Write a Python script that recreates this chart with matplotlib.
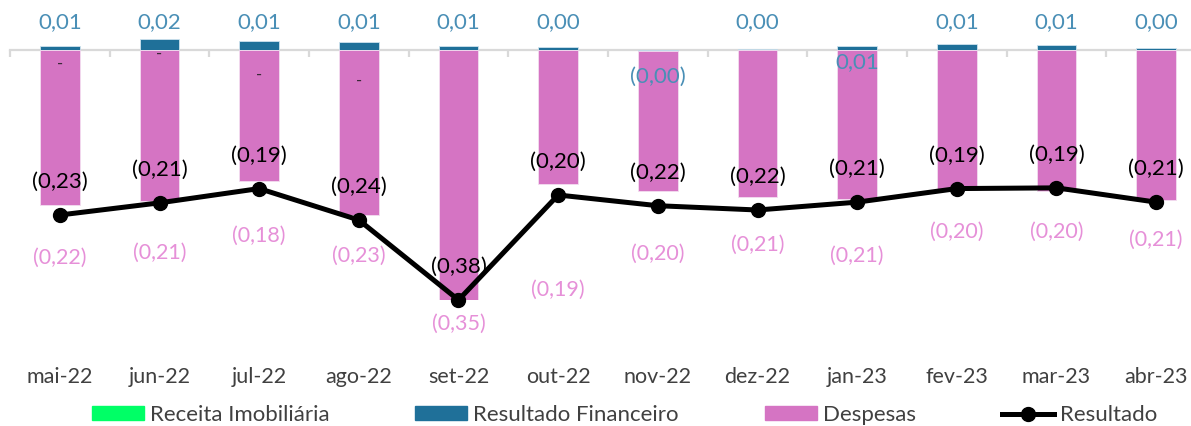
import numpy as np
import matplotlib
matplotlib.use("Agg")
import matplotlib.pyplot as plt
from matplotlib.transforms import blended_transform_factory
from matplotlib.lines import Line2D
from matplotlib.patches import Patch

# ---------------- data ----------------
meses = ["mai-22", "jun-22", "jul-22", "ago-22", "set-22", "out-22",
         "nov-22", "dez-22", "jan-23", "fev-23", "mar-23", "abr-23"]
receita_imobiliaria = [0, 0, 0, 0, 0, 0, 0, 0, 0, 0, 0, 0]
resultado_financeiro = [0.0056, 0.016, 0.0126, 0.011, 0.006, 0.004,
                        -0.001, 0.001, 0.006, 0.008, 0.007, 0.003]
despesas = [-0.2175, -0.211, -0.183, -0.231, -0.35, -0.187,
            -0.197, -0.206, -0.209, -0.196, -0.197, -0.21]
resultado = [-0.231, -0.214, -0.194, -0.238, -0.38, -0.203,
             -0.218, -0.224, -0.213, -0.194, -0.193, -0.213]
receita_label_meses = ["mai-22", "jun-22", "jul-22", "ago-22"]

# ---------------- layout / style ----------------
W, H, DPI = 1191, 426, 100
PX = 72.0 / DPI  # points per pixel

C_GREEN = "#00FF66"
C_BLUE = "#1F7099"
C_PINK = "#D574C3"
C_BLUE_LBL = "#4A8FB6"
C_PINK_LBL = "#E690D8"
C_GRAY = "#D9D9D9"
C_TXT = "#404040"

FONT = ["Lato", "DejaVu Sans"]
plt.rcParams["font.family"] = FONT
FS = 16

YMIN, YMAX = -0.35, 0.028

# label offsets in pixels (layout only)
pink_off = [-53, -52, -55, -41, -24, -106, -62, -48, -57, -42, -41, -40]
blue_off = [28, 28, 28, 28, 28, 28, -27, 28, -12, 28, 28, 28]
dash_off = [-14, -4, -25, -31]

def fmt(v):
    s = f"{abs(v):.2f}".replace(".", ",")
    if v < 0:
        return f"({s})"
    return s

fig = plt.figure(figsize=(W / DPI, H / DPI), dpi=DPI)
ax = fig.add_axes([10 / W, 126 / H, 1196 / W, 270 / H])
ax.set_xlim(-0.5, len(meses) - 0.5)
ax.set_ylim(YMIN, YMAX)

x = np.arange(len(meses))
rec = np.array(receita_imobiliaria, float)
fin = np.array(resultado_financeiro, float)
des = np.array(despesas, float)
res = np.array(resultado, float)

bw = 0.4
pos_base = np.zeros(len(x))
neg_base = np.zeros(len(x))
for vals, col in [(rec, C_GREEN), (fin, C_BLUE), (des, C_PINK)]:
    bottom = np.where(vals >= 0, pos_base, neg_base)
    ax.bar(x, vals, bw, bottom=bottom, color=col, zorder=3,
           edgecolor="#F3DDF0" if col == C_PINK else "#CFE3EE", linewidth=0.6)
    pos_base = pos_base + np.where(vals >= 0, vals, 0)
    neg_base = neg_base + np.where(vals < 0, vals, 0)

# resultado line (values beyond axis minimum drawn at the boundary, as in the source)
res_plot = np.maximum(res, YMIN)
ax.plot(x, res_plot, color="black", lw=3.6, marker="o", ms=10,
        zorder=5, clip_on=False, solid_joinstyle="round")

# axis line & boundary ticks
for s in ["top", "right", "left"]:
    ax.spines[s].set_visible(False)
ax.spines["bottom"].set_position(("data", 0))
ax.spines["bottom"].set_color(C_GRAY)
ax.spines["bottom"].set_linewidth(1.6)
ax.spines["bottom"].set_zorder(2)
ax.set_xticks(np.arange(-0.5, len(meses), 1))
ax.tick_params(axis="x", direction="out", length=5, width=1.6,
               color=C_GRAY, labelbottom=False)
ax.set_yticks([])

# category labels
tr = blended_transform_factory(ax.transData, fig.transFigure)
for i, m in enumerate(meses):
    ax.text(i, (H - 377) / H, m, transform=tr, ha="center", va="center",
            fontsize=FS - 0.5, color=C_TXT)

# data labels
for i in range(len(x)):
    ax.annotate(fmt(fin[i]), (x[i], 0), xytext=(0, blue_off[i] * PX),
                textcoords="offset points", ha="center", va="center",
                fontsize=FS, color=C_BLUE_LBL, zorder=6)
    ax.annotate(fmt(des[i]), (x[i], neg_base[i]),
                xytext=(0, pink_off[i] * PX), textcoords="offset points",
                ha="center", va="center", fontsize=FS - 0.5, color=C_PINK_LBL,
                zorder=6)
    ax.annotate(fmt(res[i]), (x[i], res_plot[i]), xytext=(0, 33 * PX),
                textcoords="offset points", ha="center", va="center",
                fontsize=FS, color="black", zorder=7)

for k, m in enumerate(receita_label_meses):
    i = meses.index(m)
    ax.annotate("-", (x[i], 0), xytext=(0, dash_off[k] * PX),
                textcoords="offset points", ha="center", va="center",
                fontsize=12, color="#3A2A38", zorder=6)

# legend
handles = [Patch(color=C_GREEN), Patch(color=C_BLUE), Patch(color=C_PINK),
           Line2D([], [], color="black", lw=3.6, marker="o", ms=10)]
labels = ["Receita Imobiliária", "Resultado Financeiro", "Despesas", "Resultado"]
fs_px = FS / PX
leg = fig.legend(handles, labels, loc="center",
                 bbox_to_anchor=(0.5 + 29 / W, (H - 415) / H),
                 ncol=4, frameon=False, prop={"size": FS},
                 handlelength=52 / fs_px, handleheight=0.6,
                 handletextpad=6 / fs_px, columnspacing=86 / fs_px,
                 borderpad=0, borderaxespad=0)
for t in leg.get_texts():
    t.set_color(C_TXT)

fig.savefig("out.png", dpi=DPI)
